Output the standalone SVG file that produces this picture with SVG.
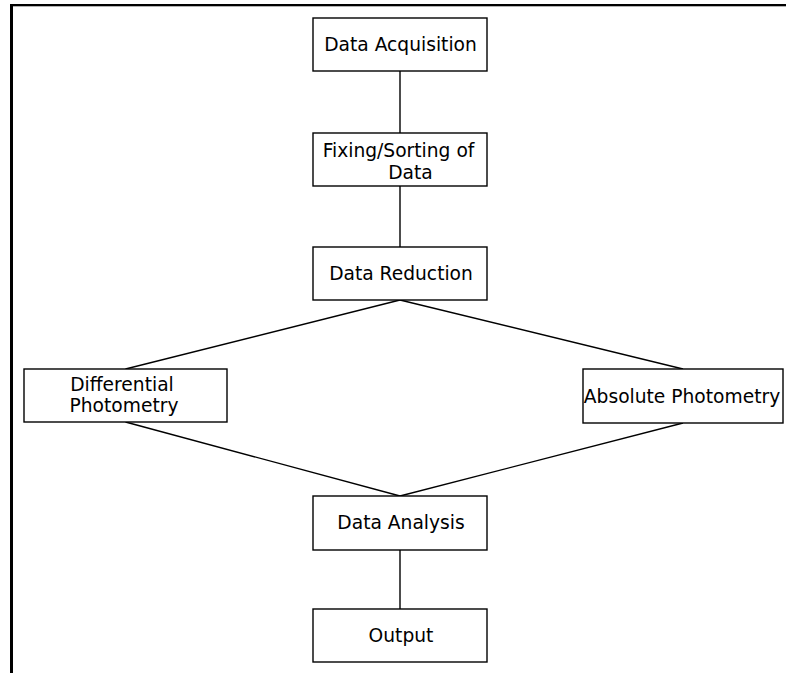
<svg xmlns="http://www.w3.org/2000/svg" width="786" height="673" viewBox="0 0 786 673">
<style>
.box{fill:#fff;stroke:#000;stroke-width:1.4}
.lbl{font-family:"DejaVu Sans",sans-serif;font-size:18.67px;fill:#000;text-anchor:middle}
.con{stroke:#000;stroke-width:1.4;fill:none}
</style>
<rect x="0" y="0" width="786" height="673" fill="#fff"/>
<g id="frame">
<rect x="10" y="4" width="776" height="2.3" fill="#000"/>
<rect x="10" y="4" width="3" height="669" fill="#000"/>
</g>
<g id="connectors">
<line class="con" x1="400" y1="71" x2="400" y2="133"/>
<line class="con" x1="400" y1="186" x2="400" y2="247"/>
<line class="con" x1="400" y1="300" x2="125.5" y2="369"/>
<line class="con" x1="400" y1="300" x2="683" y2="369"/>
<line class="con" x1="125.5" y1="422" x2="400" y2="496"/>
<line class="con" x1="683" y1="423" x2="400" y2="496"/>
<line class="con" x1="400" y1="550" x2="400" y2="609"/>
</g>
<g id="acq">
<rect class="box" x="313" y="18" width="174" height="53"/>
<text class="lbl" x="400.5" y="51">Data Acquisition</text>
</g>
<g id="fix">
<rect class="box" x="313" y="133" width="174" height="53"/>
<text class="lbl" x="398.5" y="157">Fixing/Sorting of</text>
<text class="lbl" x="410.5" y="178.5">Data</text>
</g>
<g id="red">
<rect class="box" x="313" y="247" width="174" height="53"/>
<text class="lbl" x="401" y="279.5">Data Reduction</text>
</g>
<g id="diff">
<rect class="box" x="24" y="369" width="203" height="53"/>
<text class="lbl" x="122" y="391">Differential</text>
<text class="lbl" x="124" y="412">Photometry</text>
</g>
<g id="abs">
<rect class="box" x="583" y="369" width="200" height="54"/>
<text class="lbl" x="682" y="402.5">Absolute Photometry</text>
</g>
<g id="ana">
<rect class="box" x="313" y="496" width="174" height="54"/>
<text class="lbl" x="401" y="528.5">Data Analysis</text>
</g>
<g id="out">
<rect class="box" x="313" y="609" width="174" height="53"/>
<text class="lbl" x="401" y="641.5">Output</text>
</g>
</svg>
